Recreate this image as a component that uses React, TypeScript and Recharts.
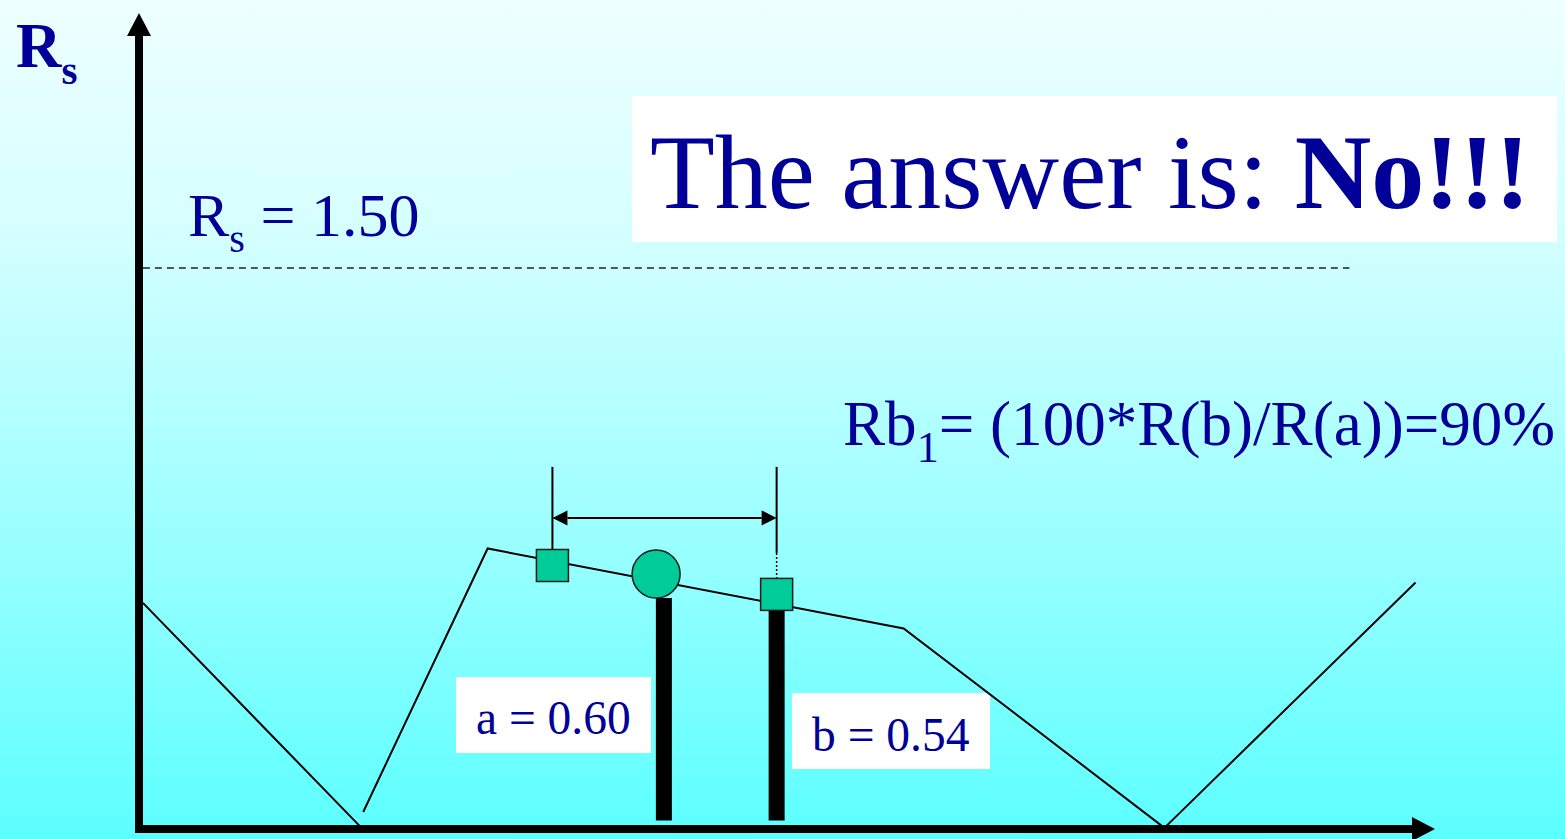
import { ComposedChart, Customized, Line, ReferenceLine, Scatter, XAxis, YAxis } from 'recharts'

const WIDTH = 1565
const HEIGHT = 839
const X_DOMAIN: [number, number] = [0, 100]
const Y_DOMAIN: [number, number] = [-0.15, 2.25]

const INK = '#000099'
const TEAL = '#00CC99'
const SERIF = "'Liberation Serif', 'Times New Roman', serif"
const CIRCLE_R = 24
const SQUARE_HALF = 16

// R(x) trace, split into the three pieces that meet the x axis
const CURVE_LEFT = [
  { x: 0.3, r: 0.515 },
  { x: 17.0, r: -0.14 },
]
const CURVE_MID = [
  { x: 17.3, r: -0.1 },
  { x: 26.9, r: 0.675 },
  { x: 59.0, r: 0.44 },
  { x: 78.9, r: -0.14 },
]
const CURVE_RIGHT = [
  { x: 79.3, r: -0.14 },
  { x: 98.5, r: 0.575 },
]

// measured points a and b, plus the start of the interval
const POINT_A = { x: 39.9, r: 0.6 }
const POINT_B = { x: 49.2, r: 0.54 }
const SQUARES = [{ x: 31.9, r: 0.625 }, POINT_B]
const CIRCLES = [POINT_A]

// thick stems under a and b
const STEMS = [
  { x: 40.5, r: POINT_A.r, marker: 'circle' },
  { x: POINT_B.x, r: POINT_B.r, marker: 'square' },
]
const STEM_BASE = -0.125

// limit line
const RS_LIMIT = 1.5
const RS_LINE_X = [0.3, 93.4]

// interval bracket between the two squares
const SPAN_X = [SQUARES[0].x, POINT_B.x]
const SPAN_ARROW_R = 0.765
const SPAN_TOP_R = 0.915
const SPAN_SOLID_END_R = 0.662

const RB1 = Math.round((100 * POINT_B.r) / POINT_A.r)

function AxisArrow(props: any) {
  const { x1, y1, x2, y2 } = props
  const head = 23
  const half = 12
  if (Math.abs(x2 - x1) > Math.abs(y2 - y1)) {
    const start = Math.min(x1, x2)
    const tip = Math.max(x1, x2)
    return (
      <g>
        <line x1={start - 4} y1={y1} x2={tip - head} y2={y1} stroke="#000" strokeWidth={8} />
        <polygon points={`${tip},${y1} ${tip - head},${y1 - half} ${tip - head},${y1 + half}`} fill="#000" />
      </g>
    )
  }
  const bottom = Math.max(y1, y2)
  const tip = Math.min(y1, y2)
  return (
    <g>
      <line x1={x1} y1={bottom + 4} x2={x1} y2={tip + head} stroke="#000" strokeWidth={8} />
      <polygon points={`${x1},${tip} ${x1 - half},${tip + head} ${x1 + half},${tip + head}`} fill="#000" />
    </g>
  )
}

function DoubleArrow(props: any) {
  const { x1, y1, x2 } = props
  const left = Math.min(x1, x2)
  const right = Math.max(x1, x2)
  const head = 15
  const half = 7.5
  return (
    <g>
      <line x1={left + head} y1={y1} x2={right - head} y2={y1} stroke="#000" strokeWidth={2} />
      <polygon points={`${left},${y1} ${left + head},${y1 - half} ${left + head},${y1 + half}`} fill="#000" />
      <polygon points={`${right},${y1} ${right - head},${y1 - half} ${right - head},${y1 + half}`} fill="#000" />
    </g>
  )
}

// stem starts just under its marker so the marker stays on top
const stemShape = (inset: number) => (p: any) => {
  const top = Math.min(p.y1, p.y2) + inset
  const bottom = Math.max(p.y1, p.y2)
  return <rect x={p.x1 - 8} y={top} width={16} height={bottom - top} fill="#000" />
}

const squareShape = (p: any) => (
  <rect
    x={p.cx - SQUARE_HALF}
    y={p.cy - SQUARE_HALF}
    width={SQUARE_HALF * 2}
    height={SQUARE_HALF * 2}
    fill={TEAL}
    stroke="#1a1a1a"
    strokeWidth={1.5}
  />
)

const circleShape = (p: any) => (
  <circle cx={p.cx} cy={p.cy} r={CIRCLE_R} fill={TEAL} stroke="#1a1a1a" strokeWidth={1.5} />
)

function Annotations() {
  return (
    <g fontFamily={SERIF} fill={INK}>
      <text x={16} y={67} fontSize={63} fontWeight="bold">
        R<tspan fontSize={41} dy={17}>s</tspan>
      </text>
      <text x={188} y={236} fontSize={62}>
        R<tspan fontSize={40} dy={16}>s</tspan>
        <tspan dy={-16}>{` = ${RS_LIMIT.toFixed(2)}`}</tspan>
      </text>

      <rect x={632} y={96} width={925} height={146} fill="#fff" />
      <text x={650} y={208} fontSize={106}>
        The answer is:{' '}
        <tspan fontWeight="bold">No!!!</tspan>
      </text>

      <text x={843} y={445} fontSize={63} textLength={712} lengthAdjust="spacingAndGlyphs">
        Rb<tspan fontSize={44} dy={17}>1</tspan>
        <tspan dy={-17}>{`= (100*R(b)/R(a))=${RB1}%`}</tspan>
      </text>

      <rect x={456} y={677} width={195} height={76} fill="#fff" />
      <text x={476} y={734} fontSize={47.5}>{`a = ${POINT_A.r.toFixed(2)}`}</text>

      <rect x={792} y={693} width={198} height={76} fill="#fff" />
      <text x={812} y={751} fontSize={47.5}>{`b = ${POINT_B.r.toFixed(2)}`}</text>
    </g>
  )
}

export default function App() {
  return (
    <div
      style={{
        position: 'absolute',
        left: 0,
        top: 0,
        width: WIDTH,
        height: HEIGHT,
        background: 'linear-gradient(to bottom, #EEFFFF 0%, #D8FFFF 25%, #B2FFFF 50%, #94FFFF 68%, #5CFFFF 100%)',
      }}
    >
      <ComposedChart width={WIDTH} height={HEIGHT} margin={{ top: 13, right: 130, bottom: 10, left: 139 }}>
        <XAxis dataKey="x" type="number" domain={X_DOMAIN} allowDataOverflow hide />
        <YAxis dataKey="r" type="number" domain={Y_DOMAIN} allowDataOverflow hide />

        <ReferenceLine
          segment={[
            { x: RS_LINE_X[0], y: RS_LIMIT },
            { x: RS_LINE_X[1], y: RS_LIMIT },
          ]}
          stroke="#222"
          strokeWidth={1.5}
          strokeDasharray="7 5"
        />

        {/* interval bracket */}
        <ReferenceLine
          segment={[
            { x: SPAN_X[0], y: SPAN_TOP_R },
            { x: SPAN_X[0], y: SQUARES[0].r },
          ]}
          stroke="#000"
          strokeWidth={2}
        />
        <ReferenceLine
          segment={[
            { x: SPAN_X[1], y: SPAN_TOP_R },
            { x: SPAN_X[1], y: SPAN_SOLID_END_R },
          ]}
          stroke="#000"
          strokeWidth={2}
        />
        <ReferenceLine
          segment={[
            { x: SPAN_X[1], y: SPAN_SOLID_END_R },
            { x: SPAN_X[1], y: POINT_B.r },
          ]}
          stroke="#000"
          strokeWidth={1.5}
          strokeDasharray="2 2"
        />
        <ReferenceLine
          segment={[
            { x: SPAN_X[0], y: SPAN_ARROW_R },
            { x: SPAN_X[1], y: SPAN_ARROW_R },
          ]}
          shape={DoubleArrow}
        />

        {[CURVE_LEFT, CURVE_MID, CURVE_RIGHT].map((data, i) => (
          <Line
            key={i}
            data={data}
            dataKey="r"
            type="linear"
            stroke="#000"
            strokeWidth={2}
            dot={false}
            activeDot={false}
            isAnimationActive={false}
          />
        ))}

        {STEMS.map((s) => (
          <ReferenceLine
            key={s.x}
            segment={[
              { x: s.x, y: STEM_BASE },
              { x: s.x, y: s.r },
            ]}
            shape={stemShape(s.marker === 'circle' ? CIRCLE_R : SQUARE_HALF)}
          />
        ))}

        <Scatter data={SQUARES} dataKey="r" shape={squareShape} isAnimationActive={false} />
        <Scatter data={CIRCLES} dataKey="r" shape={circleShape} isAnimationActive={false} />

        {/* axes with arrow heads */}
        <ReferenceLine
          segment={[
            { x: X_DOMAIN[0], y: Y_DOMAIN[0] },
            { x: X_DOMAIN[1], y: Y_DOMAIN[0] },
          ]}
          shape={AxisArrow}
        />
        <ReferenceLine
          segment={[
            { x: X_DOMAIN[0], y: Y_DOMAIN[0] },
            { x: X_DOMAIN[0], y: Y_DOMAIN[1] },
          ]}
          shape={AxisArrow}
        />

        <Customized component={Annotations} />
      </ComposedChart>
    </div>
  )
}
